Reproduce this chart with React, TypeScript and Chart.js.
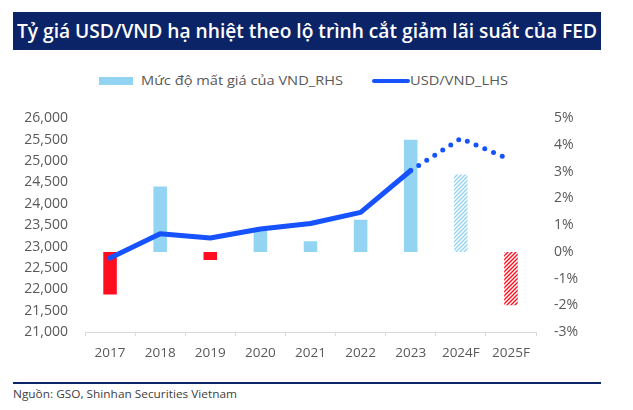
import React, { useEffect, useLayoutEffect, useRef } from "react";
import { Chart, registerables } from "chart.js";

Chart.register(...registerables);

const titleText = "Tỷ giá USD/VND hạ nhiệt theo lộ trình cắt giảm lãi suất của FED";
const sourceText = "Nguồn: GSO, Shinhan Securities Vietnam";
const barLegend = "Mức độ mất giá của VND_RHS";
const lineLegend = "USD/VND_LHS";

const categories = ["2017", "2018", "2019", "2020", "2021", "2022", "2023", "2024F", "2025F"];
const usdVnd = [22730, 23300, 23200, 23410, 23540, 23800, 24780, 25530, 25030];
const vndDepreciation = [-1.6, 2.45, -0.3, 0.85, 0.4, 1.2, 4.2, 2.9, -2.0];
const firstForecastIndex = 7;

const leftMin = 21000;
const leftMax = 26000;
const leftStep = 500;
const rightMin = -3;
const rightMax = 5;
const rightStep = 1;

const BLUE_BAR = "#92D4F2";
const RED_BAR = "#FF0E20";
const LINE_BLUE = "#1652FE";
const NAVY = "#0B2468";
const TICK_GREY = "#595959";
const FONT = "'Open Sans', 'Noto Sans', sans-serif";

function hatch(color: string): CanvasPattern | string {
  const c = document.createElement("canvas");
  const s = 4;
  c.width = s;
  c.height = s;
  const g = c.getContext("2d");
  if (!g) return color;
  g.strokeStyle = color;
  g.lineWidth = 1.4;
  g.beginPath();
  g.moveTo(0, s);
  g.lineTo(s, 0);
  g.moveTo(-1, 1);
  g.lineTo(1, -1);
  g.moveTo(s - 1, s + 1);
  g.lineTo(s + 1, s - 1);
  g.stroke();
  return g.createPattern(c, "repeat") || color;
}

function FitText(props: {
  text: string;
  left: number;
  top: number;
  width: number;
  height: number;
  size: number;
  weight?: number;
  color: string;
}) {
  const ref = useRef<HTMLSpanElement>(null);
  useLayoutEffect(() => {
    const el = ref.current;
    if (!el) return;
    el.style.transform = "none";
    const w = el.getBoundingClientRect().width;
    if (w > 0) el.style.transform = `scaleX(${props.width / w})`;
  });
  return (
    <div
      style={{
        position: "absolute",
        left: props.left,
        top: props.top,
        height: props.height,
        display: "flex",
        alignItems: "center",
        whiteSpace: "nowrap",
      }}
    >
      <span
        ref={ref}
        style={{
          display: "inline-block",
          transformOrigin: "left center",
          fontFamily: FONT,
          fontSize: props.size,
          fontWeight: props.weight ?? 400,
          color: props.color,
          lineHeight: 1,
        }}
      >
        {props.text}
      </span>
    </div>
  );
}

function ChartCanvas() {
  const ref = useRef<HTMLCanvasElement>(null);
  useEffect(() => {
    const canvas = ref.current;
    if (!canvas) return;
    const barColors = vndDepreciation.map((v, i) => {
      const base = v < 0 ? RED_BAR : BLUE_BAR;
      return i >= firstForecastIndex ? hatch(base) : base;
    });
    const chart = new Chart(canvas, {
      type: "bar",
      data: {
        labels: categories,
        datasets: [
          {
            type: "line",
            label: lineLegend,
            data: usdVnd,
            yAxisID: "y",
            borderColor: LINE_BLUE,
            backgroundColor: LINE_BLUE,
            borderWidth: 5,
            borderCapStyle: "round",
            borderJoinStyle: "round",
            pointRadius: 0,
            tension: 0,
            order: 0,
            segment: {
              borderDash: (ctx: any) => (ctx.p0DataIndex >= firstForecastIndex - 1 ? [0, 9.5] : undefined),
            },
          } as any,
          {
            type: "bar",
            label: barLegend,
            data: vndDepreciation,
            yAxisID: "y1",
            backgroundColor: barColors as any,
            borderWidth: 0,
            categoryPercentage: 1,
            barPercentage: 0.27,
            order: 1,
          } as any,
        ],
      },
      options: {
        animation: false,
        responsive: false,
        maintainAspectRatio: false,
        layout: { padding: { top: 9, left: 0, right: 0, bottom: 0 } },
        plugins: { legend: { display: false }, tooltip: { enabled: false } },
        scales: {
          x: {
            offset: true,
            grid: {
              display: true,
              drawOnChartArea: false,
              drawTicks: true,
              tickLength: 4,
              color: "#D9D9D9",
              offset: true,
            },
            border: { display: true, color: "#D9D9D9", width: 1 },
            ticks: {
              color: TICK_GREY,
              font: { family: FONT, size: 13.5 },
              padding: 9,
              maxRotation: 0,
              autoSkip: false,
            },
            afterFit: (s: any) => {
              s.height = 38;
            },
          },
          y: {
            position: "left",
            min: leftMin,
            max: leftMax,
            grid: { display: false, drawTicks: false },
            border: { display: false },
            ticks: {
              stepSize: leftStep,
              color: TICK_GREY,
              font: { family: FONT, size: 14 },
              padding: 17,
              callback: (v: any) => Number(v).toLocaleString("en-US"),
            },
            afterFit: (s: any) => {
              s.width = 85;
            },
          },
          y1: {
            position: "right",
            min: rightMin,
            max: rightMax,
            grid: { display: false, drawTicks: false },
            border: { display: false },
            ticks: {
              stepSize: rightStep,
              color: TICK_GREY,
              font: { family: FONT, size: 14 },
              padding: 18,
              callback: (v: any) => `${v}%`,
            },
            afterFit: (s: any) => {
              s.width = 97;
            },
          },
        },
      } as any,
    });
    return () => chart.destroy();
  }, []);
  return (
    <canvas
      ref={ref}
      width={633}
      height={278}
      style={{ position: "absolute", left: 0, top: 92, width: 633, height: 278 }}
    />
  );
}

export default function App() {
  return (
    <div
      style={{
        position: "fixed",
        left: 0,
        top: 0,
        width: 633,
        height: 410,
        background: "#FFFFFF",
        overflow: "hidden",
      }}
    >
      <div style={{ position: "absolute", left: 13, top: 12, width: 588, height: 38, background: NAVY }} />
      <FitText text={titleText} left={17} top={12} width={580} height={38} size={20} weight={600} color="#FFFFFF" />

      <div style={{ position: "absolute", left: 99, top: 77, width: 34, height: 8, background: BLUE_BAR }} />
      <FitText text={barLegend} left={141} top={72} width={202} height={18} size={13.5} color={TICK_GREY} />
      <div
        style={{
          position: "absolute",
          left: 372,
          top: 78.5,
          width: 38,
          height: 4.5,
          borderRadius: 3,
          background: LINE_BLUE,
        }}
      />
      <FitText text={lineLegend} left={410} top={72} width={98} height={18} size={13.5} color={TICK_GREY} />

      <ChartCanvas />

      <div style={{ position: "absolute", left: 13, top: 382, width: 588, height: 1.5, background: NAVY }} />
      <FitText text={sourceText} left={13} top={386} width={224} height={15} size={11.5} color="#404040" />
    </div>
  );
}
